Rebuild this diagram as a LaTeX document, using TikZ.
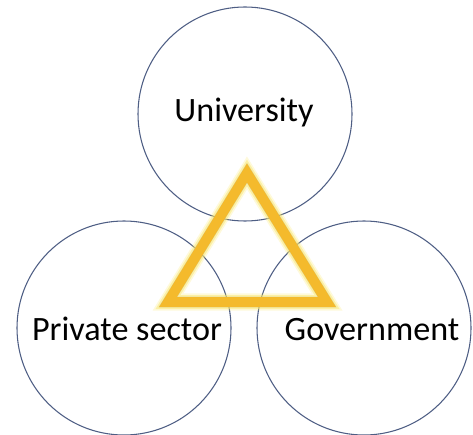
\documentclass[tikz,border=0pt]{standalone}
\usepackage{fontspec}
\setmainfont{Carlito}
\usetikzlibrary{positioning}
\definecolor{ring}{RGB}{78,94,132}
\definecolor{gold}{RGB}{244,186,44}
\definecolor{glow}{RGB}{250,232,110}

\tikzset{
  sector/.style={circle,draw=ring,line width=0.8pt,minimum size=160.5pt,inner sep=0pt},
  tag/.style={font=\fontsize{25.6}{30}\selectfont,anchor=base,text=black},
}

\begin{document}
\begin{tikzpicture}[x=0.75pt,y=-0.75pt]
  \useasboundingbox (0,0) rectangle (473,434);
  % the three spheres
  \node[sector] (univ) at (245,114) {};
  \node[sector] (priv) at (124,328) {};
  \node[sector] (gov) at (364,328) {};
  % corners of the triangle
  \coordinate (top) at (247,173);
  \coordinate (left) at (168,302);
  \coordinate (right) at (327,302);
  % soft glow and shadow behind the triangle
  \draw[glow,opacity=0.25,line width=13pt,line join=miter] (top) -- (left) -- (right) -- cycle;
  \draw[glow,opacity=0.5,line width=10.5pt,line join=miter] (top) -- (left) -- (right) -- cycle;
  \draw[black!35,opacity=0.35,line width=8pt,line join=miter,xshift=1.2pt,yshift=-1.2pt] (top) -- (left) -- (right) -- cycle;
  \draw[gold,line width=7.5pt,line join=miter] (top) -- (left) -- (right) -- cycle;
  % labels
  \node[tag] (univlbl) at (244,122) {University};
  \node[tag] (privlbl) at (127,340) {Private sector};
  \node[tag] (govlbl) at (372,340) {Government};
\end{tikzpicture}
\end{document}
